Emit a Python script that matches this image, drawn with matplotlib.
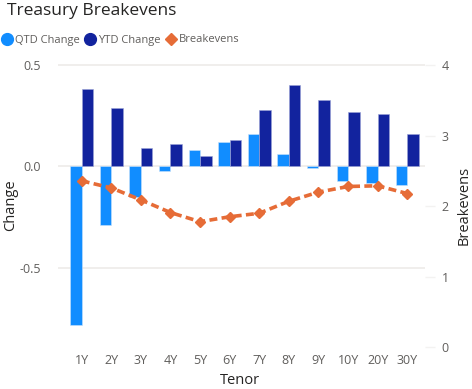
import numpy as np
import matplotlib.pyplot as plt
from matplotlib.lines import Line2D

plt.rcParams['font.family'] = ['Open Sans', 'DejaVu Sans']

tenors = ['1Y', '2Y', '3Y', '4Y', '5Y', '6Y', '7Y', '8Y', '9Y', '10Y', '20Y', '30Y']
qtd_change = [-0.78, -0.29, -0.15, -0.02, 0.08, 0.12, 0.16, 0.06, -0.01, -0.07, -0.08, -0.09]
ytd_change = [0.38, 0.29, 0.09, 0.11, 0.05, 0.13, 0.28, 0.40, 0.33, 0.27, 0.26, 0.16]
breakevens = [2.36, 2.26, 2.09, 1.91, 1.78, 1.85, 1.90, 2.07, 2.20, 2.28, 2.29, 2.18]

c_qtd = '#118DFF'
c_ytd = '#12239E'
c_be = '#E66C37'
txt = '#605E5C'
dark = '#252423'
grid = '#EDEBE9'

fig = plt.figure(figsize=(4.72, 3.89), dpi=100)
ax = fig.add_axes([58 / 472, 1 - 347 / 389, (425 - 58) / 472, (347 - 64) / 389])
ax2 = ax.twinx()

x = np.arange(len(tenors))
w = 0.39
ax.bar(x - w / 2, qtd_change, w, color=c_qtd, edgecolor='#C8E2FA', linewidth=0.4, zorder=2)
ax.bar(x + w / 2, ytd_change, w, color=c_ytd, edgecolor='#9AA3D6', linewidth=0.4, zorder=2)
ax2.plot(x, breakevens, color=c_be, linestyle=(0, (2.2, 1.2)), linewidth=2.6,
         marker='D', markersize=5.5, zorder=3)

ax.set_xlim(-0.8, 11.6)
ax.set_ylim(-0.89, 0.505)
ax2.set_ylim(0, 4.02)

ax.set_yticks([-0.5, 0.0, 0.5])
ax.set_yticklabels(['-0.5', '0.0', '0.5'])
ax.set_xticks(x)
ax.set_xticklabels(tenors)
ax2.set_yticks([0, 1, 2, 3, 4])

for a in (ax, ax2):
    for s in a.spines.values():
        s.set_visible(False)
ax.grid(axis='y', color=grid, linewidth=1.2, zorder=0)
ax.set_axisbelow(True)
ax.tick_params(axis='both', length=0, colors=txt, labelsize=9)
ax.tick_params(axis='x', pad=5)
ax.tick_params(axis='y', pad=12)
ax2.tick_params(axis='y', length=7, width=1, color='#F3F2F1', colors=txt, labelsize=9, pad=5)

fig.text(11 / 472, 1 - 205 / 389, 'Change', fontsize=10.5, color=dark,
         rotation=90, ha='center', va='center')
fig.text(464 / 472, 1 - 205 / 389, 'Breakevens', fontsize=10.5, color=dark,
         rotation=90, ha='center', va='center')
fig.text(240 / 472, 1 - 380 / 389, 'Tenor', fontsize=10.5, color=dark,
         ha='center', va='center')

fig.text(7 / 472, 1 - 11 / 389, 'Treasury Breakevens', fontsize=12.5, color=dark,
         va='center')

handles = [
    Line2D([], [], marker='o', linestyle='none', color=c_qtd, markersize=8.5),
    Line2D([], [], marker='o', linestyle='none', color=c_ytd, markersize=8.5),
    Line2D([], [], marker='D', linestyle='none', color=c_be, markersize=6),
]
fig.legend(handles, ['QTD Change', 'YTD Change', 'Breakevens'], loc='center left',
           bbox_to_anchor=(-11 / 472, 1 - 40 / 389), ncol=3, frameon=False, fontsize=8,
           labelcolor=txt, handletextpad=0.05, columnspacing=0.2, handlelength=1.4)

fig.savefig('out.png', dpi=100, facecolor='white')
